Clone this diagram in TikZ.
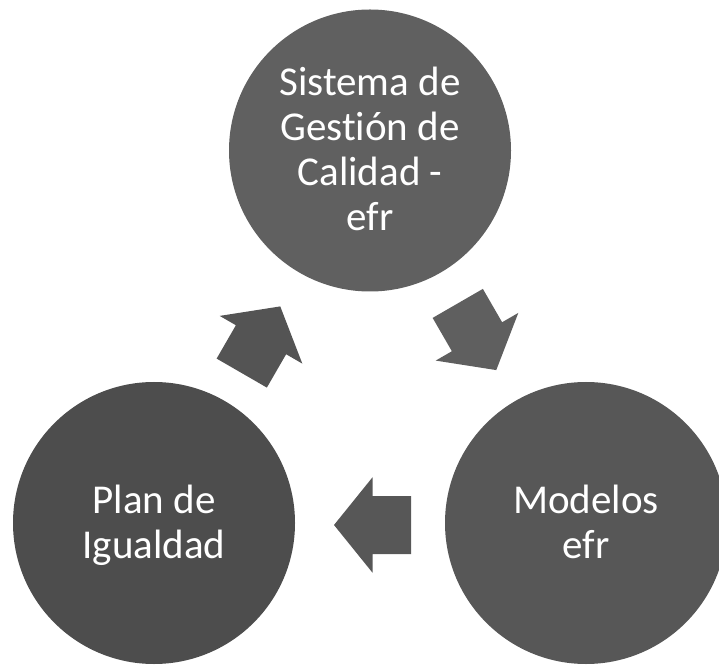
\documentclass[tikz,border=0pt]{standalone}
\usepackage{fontspec}
\setmainfont[Ligatures=NoCommon]{Carlito}
\usetikzlibrary{calc}

\definecolor{discTop}{RGB}{96,96,96}
\definecolor{discLeft}{RGB}{77,77,77}
\definecolor{discRight}{RGB}{87,87,87}
\definecolor{arrowTL}{RGB}{84,84,84}
\definecolor{arrowTR}{RGB}{95,95,95}
\definecolor{arrowB}{RGB}{87,87,87}

% strut that gives every line the same height and depth
\newcommand\linestrut{\rule[-10pt]{0pt}{46pt}}

\tikzset{
  disc/.style={circle, draw=none, minimum size=282pt, inner sep=0pt,
    text=white, align=center,
    font={\fontsize{41}{45}\selectfont\lineskiplimit=-100pt}},
  cyclearrow/.pic={
    \fill (-38.5,-29) -- (0,-29) -- (0,-47.7) -- (38.5,0)
          -- (0,47.7) -- (0,29) -- (-38.5,29) -- cycle;
  }
}

\begin{document}
\begin{tikzpicture}[x=1pt,y=1pt]
  \useasboundingbox (0,0) rectangle (719,664);
  \clip (0,0) rectangle (719,664);

  \node[disc, fill=discTop]   (T) at (370,513.5)
    {Sistema de\linestrut\\Gestión de\linestrut\\Calidad -\linestrut\\efr\linestrut};
  \node[disc, fill=discLeft]  (L) at (154,141)
    {Plan de\linestrut\\Igualdad\linestrut};
  \node[disc, fill=discRight] (R) at (586,141)
    {Modelos\linestrut\\efr\linestrut};

  % block arrows of the cycle, half way between the discs
  \pic[fill=arrowTL, rotate=60]  at ($(L)!0.5!(T)+(-1,-3)$) {cyclearrow};
  \pic[fill=arrowTR, rotate=-60] at ($(T)!0.5!(R)+(-1,0)$)  {cyclearrow};
  \pic[fill=arrowB,  rotate=180] at ($(R)!0.5!(L)+(2.5,-2)$) {cyclearrow};
\end{tikzpicture}
\end{document}
